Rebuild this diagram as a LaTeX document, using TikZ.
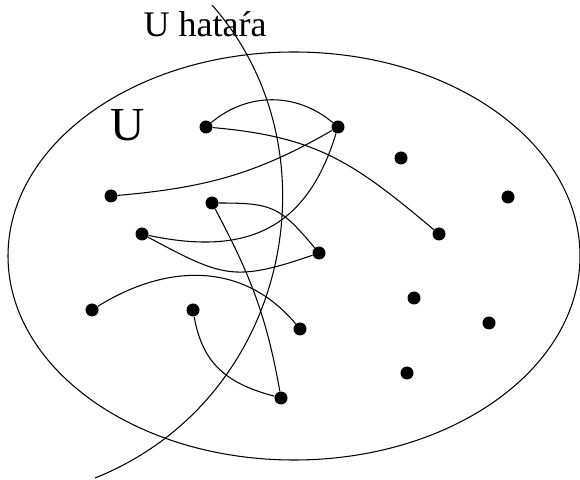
\documentclass[tikz,border=0pt]{standalone}
\usepackage{fontspec}
\setmainfont{Liberation Serif}
\usetikzlibrary{positioning}

\tikzset{
  csucs/.style={circle, fill=black, inner sep=0pt, minimum size=0.26cm},
  el/.style={line width=0.6pt}
}

\begin{document}
\begin{tikzpicture}[x=0.02cm, y=0.02cm]
        \useasboundingbox (0,0) rectangle (580,479);
        \draw[el] (294,223) ellipse (286 and 204);
        % a halmaz hatara
        \draw[el] (95,1) .. controls (290,79) and (340,329) .. (212,474);
        \node[font=\fontsize{20.5}{24}\selectfont, anchor=base] (hatar) at (205,442) {U hataŕa};
        \node[font=\fontsize{27}{32}\selectfont, anchor=base] (u) at (128,338) {U};
        % csucsok
        \node[csucs] (a) at (206,352) {};
        \node[csucs] (b) at (338,352) {};
        \node[csucs] (c) at (401,321) {};
        \node[csucs] (d) at (111,283) {};
        \node[csucs] (e) at (212,276) {};
        \node[csucs] (f) at (142,245) {};
        \node[csucs] (g) at (439,245) {};
        \node[csucs] (h) at (319,226) {};
        \node[csucs] (i) at (508,282) {};
        \node[csucs] (j) at (92,169) {};
        \node[csucs] (k) at (193,169) {};
        \node[csucs] (l) at (300,150) {};
        \node[csucs] (m) at (414,181) {};
        \node[csucs] (n) at (489,156) {};
        \node[csucs] (o) at (407,106) {};
        \node[csucs] (p) at (281,81) {};
        % elek
        \draw[el] (a) to[bend left=40] (b);
        \draw[el] (a) to[out=-5, in=140, looseness=1.1] (g);
        \draw[el] (d) to[out=5, in=210] (b);
        \draw[el] (f) to[out=-12, in=253, looseness=1.2] (b);
        \draw[el] (e) to[out=0, in=130, looseness=1.3] (h);
        \draw[el] (f) to[out=-28, in=199, looseness=1.3] (h);
        \draw[el] (e) to[out=-62, in=100] (p);
        \draw[el] (j) to[out=32, in=130, looseness=1.05] (l);
        \draw[el] (k) to[out=-80, in=165, looseness=1.1] (p);
      \end{tikzpicture}
\end{document}
